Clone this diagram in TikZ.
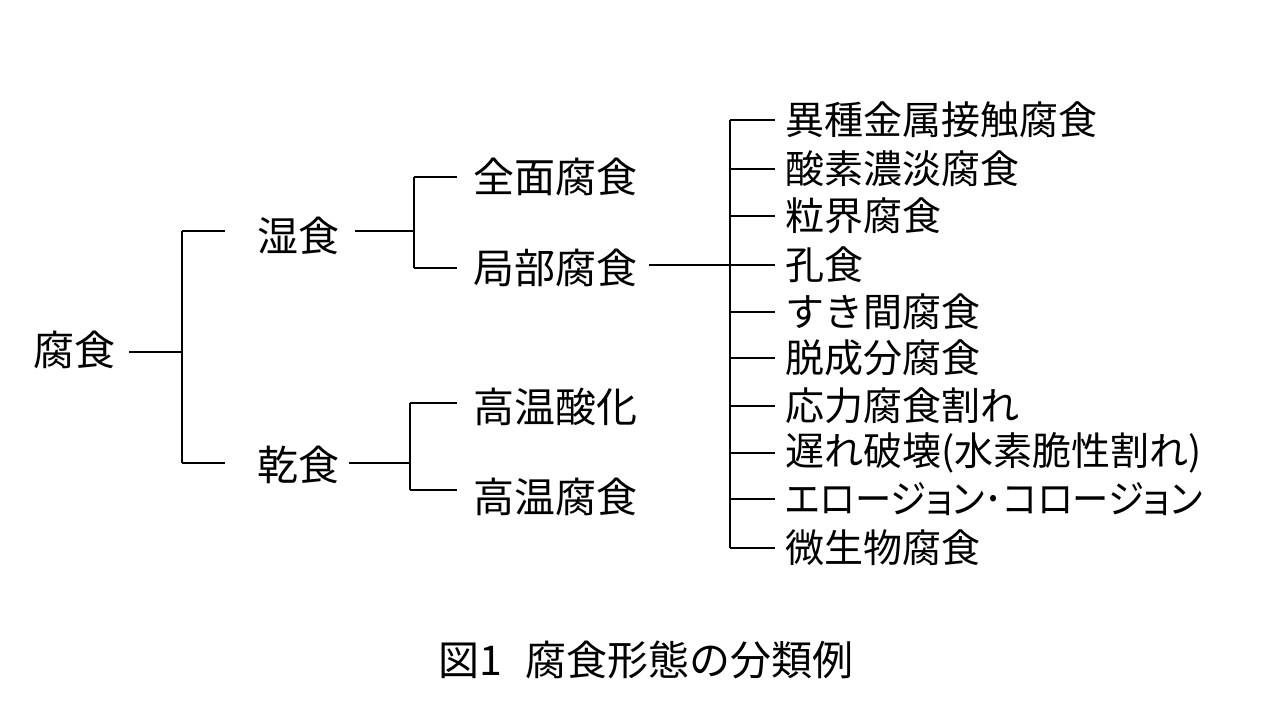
\documentclass[tikz,border=0pt]{standalone}
\usepackage{fontspec}
\usepackage{graphicx}
\setmainfont{Noto Sans CJK JP}
\newfontfamily\proptext[RawFeature=+palt]{Noto Sans CJK JP}
\begin{document}
\begin{tikzpicture}[x=1pt,y=-1pt,
  lbl/.style={anchor=west, inner sep=0pt, font=\fontsize{41}{41}\selectfont},
  rlbl/.style={anchor=west, inner sep=0pt, font=\fontsize{39}{39}\selectfont},
  capt/.style={inner sep=0pt, font=\fontsize{41}{41}\selectfont},
  conn/.style={draw=black, line width=2.8pt}]
\useasboundingbox (0,0) rectangle (1280,720);
% labels
\node[lbl] (root) at (33,350) {腐食};
\node[lbl] (wet) at (257,236) {湿食};
\node[lbl] (dry) at (257,465) {乾食};
\node[lbl] (zen) at (473,177) {全面腐食};
\node[lbl] (kyoku) at (473,268) {局部腐食};
\node[lbl] (ox) at (473,407) {高温酸化};
\node[lbl] (hc) at (473,497) {高温腐食};
\node[rlbl] (i1) at (785,120) {異種金属接触腐食};
\node[rlbl] (i2) at (785,169) {酸素濃淡腐食};
\node[rlbl] (i3) at (785,216) {粒界腐食};
\node[rlbl] (i4) at (785,265) {孔食};
\node[rlbl] (i5) at (785,312) {すき間腐食};
\node[rlbl] (i6) at (785,358) {脱成分腐食};
\node[rlbl] (i7) at (785,406) {応力腐食割れ};
\node[rlbl] (i8) at (785,453) {遅れ破壊(水素脆性割れ)};
\node[rlbl] (i9) at (785,499) {\scalebox{0.93}[1]{\proptext エロージョン･コロージョン}};
\node[rlbl] (i10) at (785,548) {微生物腐食};
\node[capt] (cap) at (646,660) {図1\hspace{24pt}腐食形態の分類例};
% junctions
\coordinate (j1) at (182,352);
\coordinate (jw) at (182,231);
\coordinate (jd) at (182,463);
\coordinate (k1) at (414,231);
\coordinate (ka) at (414,177);
\coordinate (kb) at (414,268);
\coordinate (d1) at (410,463);
\coordinate (da) at (410,403);
\coordinate (db) at (410,490);
\coordinate (rt) at (730,120);
\coordinate (rb) at (730,548);
\coordinate (r4) at (730,265);
% connectors
\draw[conn, shorten <=14pt] (root.east |- j1) -- (j1);
\draw[conn] (jw) -- (jd);
\draw[conn, shorten >=32pt] (jw) -- (wet.west |- jw);
\draw[conn, shorten >=32pt] (jd) -- (dry.west |- jd);
\draw[conn, shorten <=16pt] (wet.east |- k1) -- (k1);
\draw[conn] (ka) -- (kb);
\draw[conn, shorten >=16pt] (ka) -- (zen.west |- ka);
\draw[conn, shorten >=16pt] (kb) -- (kyoku.west |- kb);
\draw[conn, shorten <=10pt] (dry.east |- d1) -- (d1);
\draw[conn] (da) -- (db);
\draw[conn, shorten >=16pt] (da) -- (ox.west |- da);
\draw[conn, shorten >=16pt] (db) -- (hc.west |- db);
\draw[conn, shorten <=12pt] (kyoku.east |- r4) -- (r4);
\draw[conn] (rt) -- (rb);
\foreach \i in {1,...,10} {
  \draw[conn, shorten >=10pt] (rt |- i\i.west) -- (i\i.west);
}
\end{tikzpicture}
\end{document}
